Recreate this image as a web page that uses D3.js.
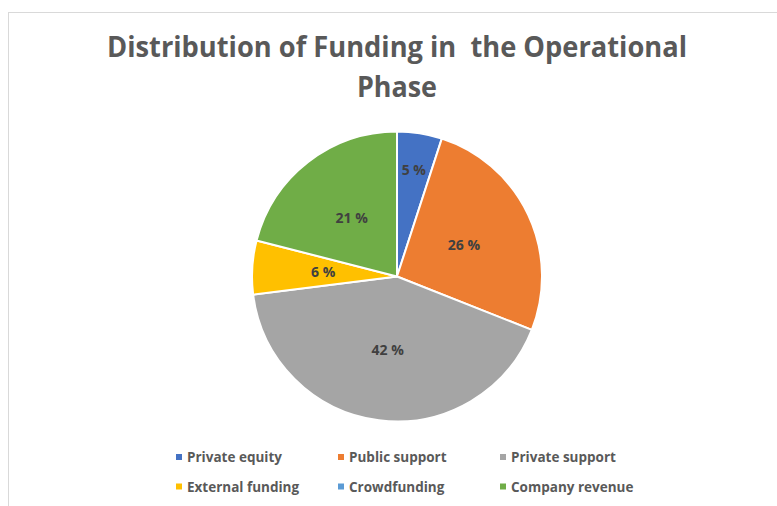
<!DOCTYPE html>
<html>
<head>
<meta charset="utf-8">
<script src="https://cdn.jsdelivr.net/npm/d3@7"></script>
<style>
  html, body { margin: 0; padding: 0; background: #fff; }
  svg { display: block; }
</style>
</head>
<body>
<svg id="chart" width="777" height="506"></svg>
<script>
// Funding sources in the operational phase (share, %)
const categories = ["Private equity", "Public support", "Private support", "External funding", "Crowdfunding", "Company revenue"];
const shares = [5, 26, 42, 6, 0, 21];
const colors = ["#4472C4", "#ED7D31", "#A5A5A5", "#FFC000", "#5B9BD5", "#70AD47"];
const titleLines = ["Distribution of Funding in  the Operational", "Phase"];

const W = 777, H = 506;
const svg = d3.select("#chart");
const FONT = "'Open Sans', 'Noto Sans', sans-serif";

// chart area frame
svg.append("rect")
  .attr("x", 8.5).attr("y", 12.5)
  .attr("width", W + 20).attr("height", H + 20)
  .attr("fill", "#fff").attr("stroke", "#d9d9d9").attr("stroke-width", 1);

// title (condensed to the width of the original typeface)
const cx = 397, cy = 276.5, R = 145;
const title = svg.append("g")
  .attr("font-family", FONT).attr("font-weight", 700)
  .attr("fill", "#595959").attr("text-anchor", "middle");
const titleWidths = [580, 80];
const titleBase = [57, 97];
titleLines.forEach((t, i) => {
  title.append("text")
    .attr("x", cx).attr("y", titleBase[i])
    .attr("font-size", 28)
    .attr("textLength", titleWidths[i])
    .attr("lengthAdjust", "spacingAndGlyphs")
    .style("white-space", "pre")
    .text(t);
});

// pie
const data = categories.map((c, i) => ({ name: c, value: shares[i], color: colors[i] }));
const pie = d3.pie().sort(null).value(d => d.value);
const arcs = pie(data);
const arc = d3.arc().innerRadius(0).outerRadius(R);

const g = svg.append("g").attr("transform", `translate(${cx},${cy})`);
g.selectAll("path.slice")
  .data(arcs.filter(d => d.data.value > 0))
  .join("path")
  .attr("class", "slice")
  .attr("d", arc)
  .attr("fill", d => d.data.color)
  .attr("stroke", "#fff")
  .attr("stroke-width", 2)
  .attr("stroke-linejoin", "round");

// value labels: narrow slices push their label outward
const labelArcMid = d3.arc().innerRadius(0).outerRadius(R * 1.02);   // centroid near R/2
const labelArcOuter = d3.arc().innerRadius(R * 0.74).outerRadius(R * 0.74);
g.selectAll("text.val")
  .data(arcs.filter(d => d.data.value > 0))
  .join("text")
  .attr("class", "val")
  .attr("transform", d => {
    const span = d.endAngle - d.startAngle;
    const p = span < 0.35 && d.data.value < 6 ? labelArcOuter.centroid(d) : labelArcMid.centroid(d);
    return `translate(${p[0]},${p[1]})`;
  })
  .attr("text-anchor", "middle")
  .attr("dy", "0.35em")
  .attr("font-family", FONT).attr("font-weight", 700)
  .attr("font-size", 14)
  .attr("fill", "#404040")
  .text(d => `${d.data.value} %`);

// legend: three columns, two rows
const colX = [176, 338, 500];
const rowY = [457.5, 487];
const legend = svg.append("g").attr("font-family", FONT).attr("font-weight", 700);
data.forEach((d, i) => {
  const x = colX[i % 3], y = rowY[Math.floor(i / 3)];
  legend.append("rect")
    .attr("x", x).attr("y", y - 3.5)
    .attr("width", 6).attr("height", 6)
    .attr("fill", d.color);
  legend.append("text")
    .attr("x", x + 11).attr("y", y)
    .attr("dy", "0.35em")
    .attr("font-size", 13.5)
    .attr("fill", "#595959")
    .text(d.name);
});
</script>
</body>
</html>
